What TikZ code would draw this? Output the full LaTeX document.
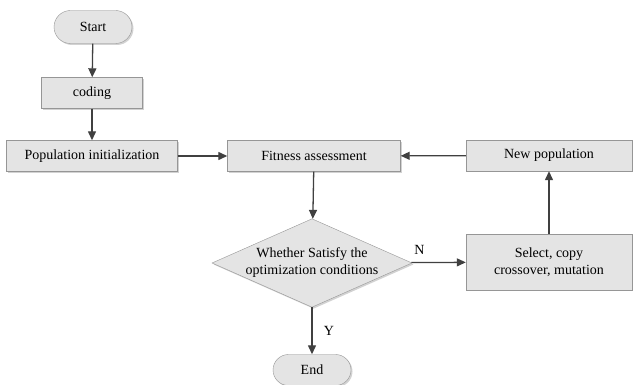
\documentclass[tikz,border=0pt]{standalone}
\usepackage{fontspec}
\setmainfont{Liberation Serif}
\usetikzlibrary{arrows.meta,shapes.geometric,shapes.misc,shadows,positioning}
\definecolor{boxColor}{RGB}{228,228,228}
\definecolor{edgeColor}{RGB}{150,150,150}
\definecolor{lineColor}{RGB}{64,64,64}
\tikzset{process/.style={draw=edgeColor, fill=boxColor, align=center, minimum height=31pt, inner sep=2pt,
    font=\fontsize{14}{17}\selectfont, drop shadow={shadow xshift=1.5pt, shadow yshift=-1.5pt, fill=black!35, opacity=.5}}}
\tikzset{terminal/.style={process, rounded rectangle, minimum width=82pt, minimum height=33pt}}
\tikzset{decision/.style={process, diamond, aspect=2.26, minimum width=199pt, minimum height=88pt, inner sep=0pt}}
\tikzstyle{arrow} = [draw=lineColor, line width=1.3pt, -{Triangle[length=9pt,width=8pt]}]

\begin{document}
\begin{tikzpicture}[x=1pt,y=-1pt]
	\useasboundingbox (0,0) rectangle (633,385);
	% Nodes
	\node (start) [terminal] at (93,27) {Start};
	\node (coding) [process, minimum width=101pt] at (92,93) {coding};
	\node (init) [process, minimum width=171pt] at (92,156) {Population initialization};
	\node (fitness) [process, minimum width=173pt] at (314,156) {Fitness assessment};
	\node (newpop) [process, minimum width=166pt] at (549,155.5) {New population};
	\node (check) [decision] at (312,263) {Whether Satisfy the\\optimization conditions};
	\node (select) [process, minimum width=166pt, minimum height=56pt] at (549,262) {Select, copy\\crossover, mutation};
	\node (end) [terminal, minimum height=31pt] at (312,370) {End};

	% Connectors
	\draw [arrow] (start) -- (coding);
	\draw [arrow] (coding) -- (init);
	\draw [arrow] (init) -- (fitness);
	\draw [arrow] (fitness) -- (check);
	\draw [arrow] (check) -- node[right=8pt, font=\fontsize{14}{17}\selectfont]{Y} (end);
	\draw [arrow] (check) -- node[pos=.15, above=4pt, font=\fontsize{14}{17}\selectfont]{N} (select);
	\draw [arrow] (select) -- (newpop);
	\draw [arrow] (newpop) -- (fitness);
\end{tikzpicture}
\end{document}
